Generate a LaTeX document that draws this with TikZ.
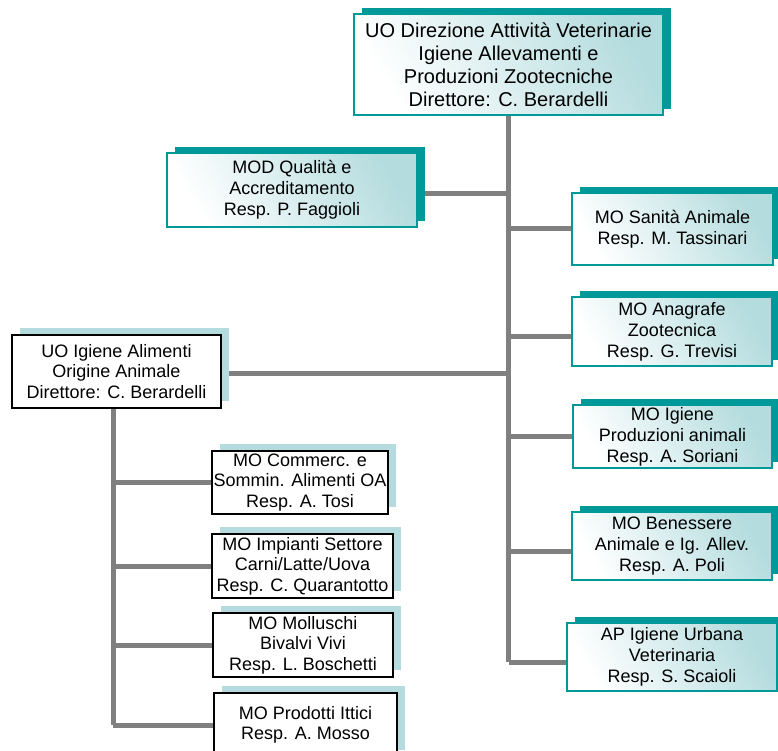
\documentclass[tikz,border=0pt]{standalone}
\usepackage{fontspec}
\setmainfont{Liberation Sans}
\usetikzlibrary{shadows,backgrounds}
\definecolor{orgteal}{RGB}{0,153,153}
\definecolor{orgpale}{RGB}{180,220,222}
\definecolor{orggray}{RGB}{128,128,128}
\tikzset{
  tealbox/.style={draw=orgteal, line width=2.5pt, left color=white, right color=orgpale,
    shading angle=120, align=center, inner sep=0pt, font=\fontsize{18}{21}\selectfont,
    general shadow={fill=orgteal, shadow xshift=8pt, shadow yshift=6pt}},
  dirfont/.style={font=\fontsize{20}{23}\selectfont},
  blackbox/.style={draw=black, line width=2.5pt, fill=white, align=center, inner sep=0pt,
    font=\fontsize{18}{20.5}\selectfont,
    general shadow={fill=orgpale, shadow xshift=8pt, shadow yshift=7pt}},
  conn/.style={draw=orggray, line width=5pt}
}
\begin{document}
\begin{tikzpicture}[x=1pt,y=-1pt]
\clip (0,0) rectangle (778,751);
% veterinary side
\node[tealbox, dirfont, minimum width=309pt, minimum height=101pt] (dir) at (508.5,64.5)
  {UO Direzione Attività Veterinarie\\Igiene Allevamenti e\\Produzioni Zootecniche\\Direttore: C. Berardelli};
\node[tealbox, minimum width=250pt, minimum height=74pt] (qual) at (292,190)
  {MOD Qualità e\\Accreditamento\\Resp. P. Faggioli};
\node[tealbox, minimum width=201pt, minimum height=72pt] (san) at (672.5,229)
  {MO Sanità Animale\\Resp. M. Tassinari};
\node[tealbox, minimum width=200pt, minimum height=69pt] (anag) at (672,331.5)
  {MO Anagrafe\\Zootecnica\\Resp. G. Trevisi};
\node[tealbox, minimum width=199pt, minimum height=63pt] (prodan) at (672.5,436.5)
  {MO Igiene\\Produzioni animali\\Resp. A. Soriani};
\node[tealbox, minimum width=200pt, minimum height=68pt] (ben) at (672,546)
  {MO Benessere\\Animale e Ig. Allev.\\Resp. A. Poli};
\node[tealbox, minimum width=210pt, minimum height=68pt] (urb) at (672,657)
  {AP Igiene Urbana\\Veterinaria\\Resp. S. Scaioli};
% food side
\node[blackbox, minimum width=209pt, minimum height=73pt] (alim) at (116.5,371.5)
  {UO Igiene Alimenti\\Origine Animale\\Direttore: C. Berardelli};
\node[blackbox, minimum width=176pt, minimum height=63pt] (comm) at (300,482.5)
  {MO Commerc. e\\Sommin. Alimenti OA\\Resp. A. Tosi};
\node[blackbox, minimum width=181pt, minimum height=64pt] (imp) at (302.5,566)
  {MO Impianti Settore\\Carni/Latte/Uova\\Resp. C. Quarantotto};
\node[blackbox, minimum width=180pt, minimum height=64pt] (moll) at (303,645)
  {MO Molluschi\\Bivalvi Vivi\\Resp. L. Boschetti};
\node[blackbox, minimum width=183pt, minimum height=64pt] (itt) at (305.5,725)
  {MO Prodotti Ittici\\Resp. A. Mosso};
% attachment points
\coordinate (qualout) at ([yshift=-4pt]qual.east);
\coordinate (anagin) at ([yshift=-4.5pt]anag.west);
\coordinate (benin) at ([yshift=-5pt]ben.west);
\coordinate (urbin) at ([yshift=-5pt]urb.west);
\coordinate (alimout) at ([yshift=-1.5pt]alim.east);
\coordinate (alimdown) at ([xshift=-3.5pt]alim.south);
\begin{scope}[on background layer]
\draw[conn] (dir.south) -- (dir.south |- urbin);
\draw[conn] (qualout) -- (qualout -| dir.south);
\draw[conn] (dir.south |- san.west) -- (san.west);
\draw[conn] (dir.south |- anagin) -- (anagin);
\draw[conn] (dir.south |- prodan.west) -- (prodan.west);
\draw[conn] (dir.south |- benin) -- (benin);
\draw[conn] (dir.south |- urbin) -- (urbin);
\draw[conn] (alimout) -- (alimout -| dir.south);
\draw[conn] (alimdown) -- (alimdown |- itt.west);
\draw[conn] (alimdown |- comm.west) -- (comm.west);
\draw[conn] (alimdown |- imp.west) -- (imp.west);
\draw[conn] (alimdown |- moll.west) -- (moll.west);
\draw[conn] (alimdown |- itt.west) -- (itt.west);
\end{scope}
\end{tikzpicture}
\end{document}
